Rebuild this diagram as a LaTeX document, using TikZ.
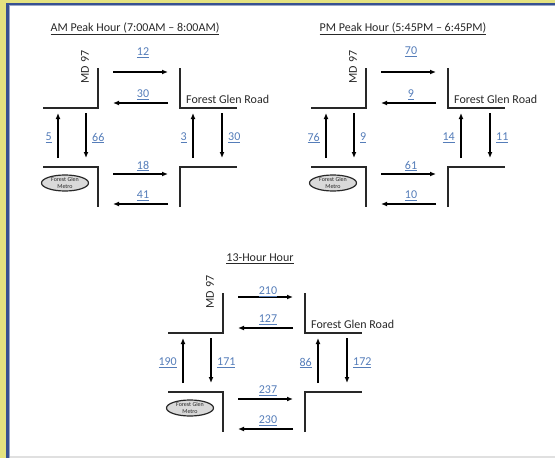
\documentclass[tikz,border=0pt]{standalone}
\usepackage{fontspec}
\setmainfont{Carlito}
\usetikzlibrary{arrows.meta,shapes.geometric}
\definecolor{numblue}{RGB}{85,125,185}
\definecolor{framey}{RGB}{228,226,128}
\definecolor{frameb}{RGB}{55,80,145}
\definecolor{ink}{RGB}{40,40,40}
\tikzset{
  road/.style={draw=ink, line width=1.4pt},
  flow/.style={draw=black, line width=1.2pt, -{Latex[length=6pt,width=5pt]}},
  num/.style={text=numblue, font=\fontsize{12}{14}\selectfont, inner sep=1pt},
  ttl/.style={text=ink, font=\fontsize{12}{14}\selectfont, inner sep=1pt},
  street/.style={text=ink, font=\fontsize{12}{14}\selectfont, inner sep=1pt},
  metro/.style={ellipse, draw=ink, fill=black!15, line width=1.2pt,
    minimum width=47pt, minimum height=16pt, inner sep=0pt,
    font=\fontsize{6}{7}\selectfont, align=center, text=ink},
}
% #1 title, #2 E top, #3 W top, #4 up left, #5 down left, #6 up right,
% #7 down right, #8 E bottom, #9 W bottom
\newcommand\junction[9]{%
  \node[ttl] (title) at (135,\titley) {\underline{#1}};
  \node[street, rotate=90] (md) at (85,67) {MD 97};
  \node[street, anchor=west] (fgr) at (185,99) {Forest Glen Road};
  \node[metro] (metro) at (65,183) {Forest Glen\\Metro};
  % road corners
  \coordinate (ula) at (43,108); \coordinate (ulb) at (98,108); \coordinate (ulc) at (98,68);
  \draw[road] (ula) -- (ulb) -- (ulc);
  \coordinate (ura) at (180,68); \coordinate (urb) at (180,108); \coordinate (urc) at (237,108);
  \draw[road] (ura) -- (urb) -- (urc);
  \coordinate (lla) at (43,167); \coordinate (llb) at (98,167); \coordinate (llc) at (98,207);
  \draw[road] (lla) -- (llb) -- (llc);
  \coordinate (lra) at (180,207); \coordinate (lrb) at (180,167); \coordinate (lrc) at (237,167);
  \draw[road] (lra) -- (lrb) -- (lrc);
  % flows
  \coordinate (e1s) at (113,72); \coordinate (e1e) at (168,72);
  \draw[flow] (e1s) -- (e1e);
  \node[num] (n1) at (143,\topy) {\underline{#2}};
  \coordinate (w1s) at (168,103); \coordinate (w1e) at (113,103);
  \draw[flow] (w1s) -- (w1e);
  \node[num] (n2) at (143,95) {\underline{#3}};
  \coordinate (u1s) at (58,158); \coordinate (u1e) at (58,113);
  \draw[flow] (u1s) -- (u1e);
  \node[num, anchor=east] (n3) at (53,138) {\underline{#4}};
  \coordinate (d1s) at (86,113); \coordinate (d1e) at (86,158);
  \draw[flow] (d1s) -- (d1e);
  \node[num, anchor=west] (n4) at (91,138) {\underline{#5}};
  \coordinate (u2s) at (193,158); \coordinate (u2e) at (193,113);
  \draw[flow] (u2s) -- (u2e);
  \node[num, anchor=east] (n5) at (188,138) {\underline{#6}};
  \coordinate (d2s) at (222,113); \coordinate (d2e) at (222,158);
  \draw[flow] (d2s) -- (d2e);
  \node[num, anchor=west] (n6) at (227,138) {\underline{#7}};
  \coordinate (e2s) at (113,174); \coordinate (e2e) at (168,174);
  \draw[flow] (e2s) -- (e2e);
  \node[num] (n7) at (143,166) {\underline{#8}};
  \coordinate (w2s) at (168,204); \coordinate (w2e) at (113,204);
  \draw[flow] (w2s) -- (w2e);
  \node[num] (n8) at (143,196) {\underline{#9}};
}
\begin{document}
\begin{tikzpicture}[x=1pt,y=-1pt]
  \useasboundingbox (0,0) rectangle (555,458);
  % frame
  \fill[framey] (0,0) rectangle (7,458);
  \fill[framey] (0,0) rectangle (555,2.5);
  \fill[frameb] (6,2.5) rectangle (8.5,458);
  \fill[frameb] (6,2.5) rectangle (555,4.5);
  \fill[frameb!50] (8.5,4.5) rectangle (9.5,458);
  \fill[frameb!50] (8.5,4.5) rectangle (555,5.5);
  \fill[black!12] (9.5,455.5) rectangle (555,457.5);
  % AM
  \begin{scope}[name prefix=am-]
    \def\titley{29}\def\topy{53}
    \junction{AM Peak Hour (7:00AM – 8:00AM)}{12}{30}{5}{66}{3}{30}{18}{41}
  \end{scope}
  % PM
  \begin{scope}[shift={(268,0)}, name prefix=pm-]
    \def\titley{29}\def\topy{52}
    \junction{PM Peak Hour (5:45PM – 6:45PM)}{70}{9}{76}{9}{14}{11}{61}{10}
  \end{scope}
  % 13-hour
  \begin{scope}[shift={(125,225)}, name prefix=dy-]
    \def\titley{34}\def\topy{67}
    \junction{13-Hour Hour}{210}{127}{190}{171}{86}{172}{237}{230}
  \end{scope}
\end{tikzpicture}
\end{document}
